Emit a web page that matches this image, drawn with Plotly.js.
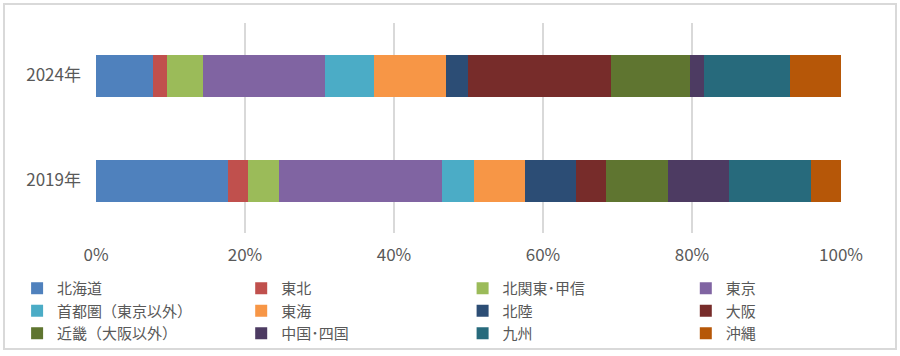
<!DOCTYPE html>
<html>
<head>
<meta charset="utf-8">
<script src="https://cdn.plot.ly/plotly-3.0.1.min.js"></script>
<style>
html,body{margin:0;padding:0;background:#fff;}
#wrap{position:relative;width:900px;height:356px;}
#chart{width:900px;height:356px;}
#frame{position:absolute;left:3px;top:3px;width:890px;height:343px;border:2px solid #d9d9d9;pointer-events:none;}
</style>
</head>
<body>
<div id="wrap"><div id="chart"></div><div id="frame"></div></div>
<script>
const years = ["2019年", "2024年"];
const regions = ["北海道", "東北", "北関東･甲信", "東京", "首都圏（東京以外）", "東海", "北陸", "大阪", "近畿（大阪以外）", "中国･四国", "九州", "沖縄"];
const share2019 = [17.7, 2.7, 4.2, 21.9, 4.2, 6.9, 6.8, 4.1, 8.3, 8.2, 11.0, 4.0];
const share2024 = [7.6, 1.9, 4.8, 16.4, 6.6, 9.7, 2.9, 19.2, 10.6, 1.9, 11.6, 6.8];
const colors = ["#4F81BD", "#C0504D", "#9BBB59", "#8064A2", "#4BACC6", "#F79646", "#2C4D75", "#772C2A", "#5F7530", "#4D3B62", "#276A7C", "#B65708"];
const xTicks = [0, 20, 40, 60, 80, 100];
const xTickText = ["0%", "20%", "40%", "60%", "80%", "100%"];

const font = "'Noto Sans CJK JP', 'Noto Sans', sans-serif";
const legendIds = ["legend", "legend2", "legend3", "legend4"];
const legendX = [0.019, 0.268, 0.514, 0.762];

const traces = regions.map((r, i) => ({
  type: "bar",
  orientation: "h",
  name: r,
  y: years,
  x: [share2019[i], share2024[i]],
  marker: {color: colors[i], line: {width: 0}},
  legend: legendIds[i % 4],
  hoverinfo: "name+x"
}));

const layout = {
  width: 900, height: 356,
  margin: {l: 96, r: 59, t: 23, b: 123, autoexpand: false},
  barmode: "stack",
  bargap: 0.6,
  paper_bgcolor: "#fff",
  plot_bgcolor: "#fff",
  font: {family: font, size: 17, color: "#595959"},
  xaxis: {
    range: [0, 100], tickvals: xTicks, ticktext: xTickText,
    showgrid: true, gridcolor: "#d9d9d9", gridwidth: 2,
    zeroline: false, showline: false, ticks: "", ticklabelstandoff: 10,
    automargin: false, fixedrange: true
  },
  yaxis: {
    type: "category", categoryorder: "array", categoryarray: years,
    range: [-0.5, 1.5], showgrid: false, zeroline: false, showline: false,
    ticks: "", ticklabelstandoff: 14, automargin: false, fixedrange: true
  },
  showlegend: true
};
legendIds.forEach((id, k) => {
  layout[id] = {
    orientation: "v", xref: "container", yref: "container",
    x: legendX[k], xanchor: "left", y: 0.236, yanchor: "top",
    traceorder: "normal", bgcolor: "rgba(0,0,0,0)",
    font: {family: font, size: 15, color: "#595959"},
    itemwidth: 30, tracegroupgap: 0
  };
});
Plotly.newPlot("chart", traces, layout, {displayModeBar: false, staticPlot: true});
</script>
</body>
</html>
